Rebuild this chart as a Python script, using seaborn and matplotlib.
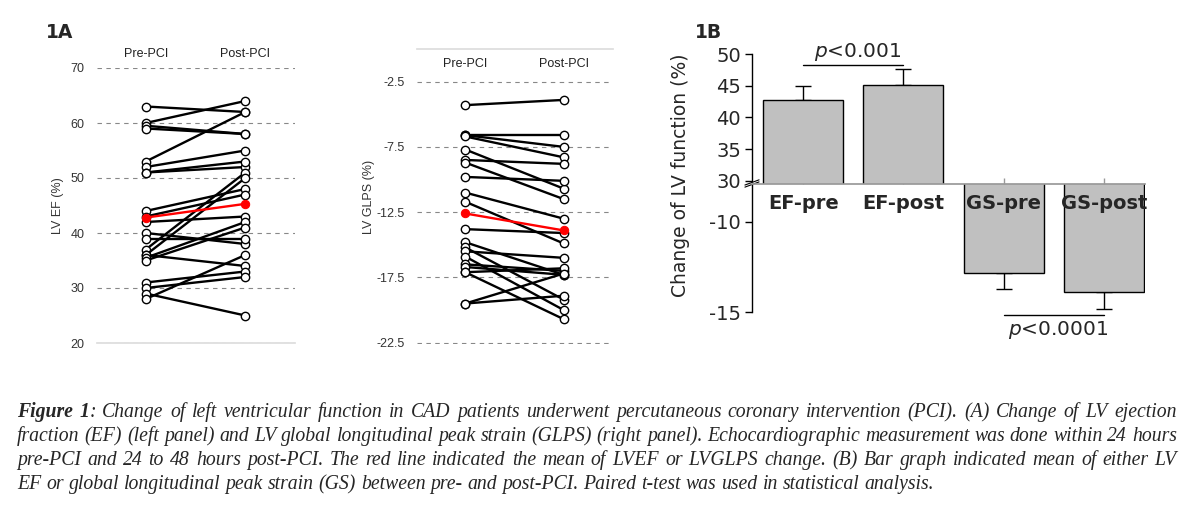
import matplotlib
matplotlib.use("Agg")
import matplotlib.pyplot as plt
import seaborn as sns
import pandas as pd

sns.set_theme(style="white")
plt.rcParams["font.family"] = ["Liberation Sans", "DejaVu Sans"]
plt.rcParams["axes.unicode_minus"] = False

# ----------------------------------------------------------------------
# Data
# ----------------------------------------------------------------------
time_labels = ["Pre-PCI", "Post-PCI"]

ef_pre = [63, 60, 59.5, 59, 53, 52, 51, 51, 44, 43, 42, 40, 39, 37, 36, 36, 35.5, 35, 31, 30, 29, 28]
ef_post = [62, 64, 58, 58, 62, 55, 52, 53, 48, 47, 43, 38, 39, 51, 50, 34, 42, 41, 33, 32, 25, 36]
ef_mean = [42.8, 45.3]
ef_ticks = [20, 30, 40, 50, 60, 70]

glps_pre = [-4.3, -6.6, -6.6, -6.7, -7.7, -8.5, -8.7, -9.8, -11.0, -11.7, -13.8,
            -14.8, -15.2, -15.5, -15.9, -16.5, -16.7, -17.1, -17.1, -19.5, -19.5]
glps_post = [-3.9, -6.6, -7.5, -8.3, -10.7, -8.8, -11.5, -10.1, -13.0, -14.9, -14.1,
             -17.3, -19.2, -16.0, -20.0, -17.0, -17.3, -16.8, -20.7, -18.9, -17.2]
glps_mean = [-12.6, -13.9]
glps_ticks = [-22.5, -17.5, -12.5, -7.5, -2.5]

bar_labels = ["EF-pre", "EF-post", "GS-pre", "GS-post"]
bar_means = [42.7, 45.1, -12.8, -13.9]
bar_err = [2.2, 2.5, 0.9, 0.9]
top_ticks = [30, 35, 40, 45, 50]
bottom_ticks = [-15, -10]

caption_lines = [
    "Figure 1: Change of left ventricular function in CAD patients underwent percutaneous coronary intervention (PCI). (A) Change of LV ejection",
    "fraction (EF) (left panel) and LV global longitudinal peak strain (GLPS) (right panel). Echocardiographic measurement was done within 24 hours",
    "pre-PCI and 24 to 48 hours post-PCI. The red line indicated the mean of LVEF or LVGLPS change. (B) Bar graph indicated mean of either LV",
    "EF or global longitudinal peak strain (GS) between pre- and post-PCI. Paired t-test was used in statistical analysis.",
]
caption_bold = "Figure 1"

W, H = 1194, 513
WIDE = ["DejaVu Sans"]


def box(x0, y0, x1, y1):
    """Pixel box (top-left origin) -> figure fraction rect."""
    return [x0 / W, 1 - y1 / H, (x1 - x0) / W, (y1 - y0) / H]


def paired_frame(pre, post):
    n = len(pre)
    return pd.DataFrame({
        "pid": list(range(n)) * 2,
        "time": [time_labels[0]] * n + [time_labels[1]] * n,
        "value": list(pre) + list(post),
    })


def draw_paired(ax, pre, post, mean, ticks, ylabel, labelpad):
    sns.lineplot(data=paired_frame(pre, post), x="time", y="value", units="pid",
                 estimator=None, sort=False, color="black", lw=1.7, marker="o",
                 ms=6, mfc="white", mec="black", mew=1.0, ax=ax, legend=False)
    mdf = pd.DataFrame({"time": time_labels, "value": mean})
    sns.lineplot(data=mdf, x="time", y="value", sort=False, color="#ff0000", lw=1.7,
                 marker="o", ms=6, mfc="#ff0000", mec="#ff0000", ax=ax, zorder=5)
    ax.set_yticks(ticks)
    ax.set_yticklabels([f"{t:g}" for t in ticks])
    ax.set_xlim(-0.49, 1.5)
    ax.set_xlabel("")
    ax.set_ylabel(ylabel, fontsize=9, color="#333333", labelpad=labelpad)
    ax.grid(axis="y", ls=(0, (4, 4)), color="#888888", lw=0.8)
    ax.grid(axis="x", visible=False)
    ax.tick_params(axis="y", length=0, labelsize=9, labelcolor="#333333", pad=9)
    ax.tick_params(axis="x", length=0, labelsize=9, labelcolor="#222222")
    ax.set_facecolor("none")
    for s in ax.spines.values():
        s.set_visible(False)


fig = plt.figure(figsize=(W / 100, H / 100), dpi=100)

# ---------------------------- 1A left: LV EF ---------------------------
ax1 = fig.add_axes(box(97, 68, 295, 343))
draw_paired(ax1, ef_pre, ef_post, ef_mean, ef_ticks, "LV EF (%)", 5)
ax1.set_ylim(20, 70)
ax1.xaxis.tick_top()
ax1.tick_params(axis="x", pad=6)
ax1.spines["bottom"].set_visible(True)
ax1.spines["bottom"].set_color("#dddddd")

# ---------------------------- 1A right: LV GLPS ------------------------
ax2 = fig.add_axes(box(417, 49, 613, 344))
draw_paired(ax2, glps_pre, glps_post, glps_mean, glps_ticks, "LV GLPS (%)", 1)
ax2.set_ylim(-22.6, 0)
ax2.xaxis.tick_top()
ax2.tick_params(axis="x", pad=-15)
ax2.spines["top"].set_visible(True)
ax2.spines["top"].set_color("#dddddd")

fig.text(46 / W, 1 - 32 / H, "1A", fontsize=13.5, fontweight="bold", va="center",
         ha="left", family=WIDE)

# ---------------------------- 1B: broken bar chart ---------------------
ax_top = fig.add_axes(box(752, 54, 1145, 184))
ax_bot = fig.add_axes(box(752, 184, 1145, 334))
bar_df = pd.DataFrame({"label": bar_labels, "mean": bar_means})
lower = [e if m < 0 else 0 for m, e in zip(bar_means, bar_err)]
upper = [e if m > 0 else 0 for m, e in zip(bar_means, bar_err)]
for ax in (ax_top, ax_bot):
    ax.errorbar(range(len(bar_means)), bar_means, yerr=[lower, upper], fmt="none",
                ecolor="black", elinewidth=1, capsize=6, capthick=1, zorder=1)
    sns.barplot(data=bar_df, x="label", y="mean", color="#c0c0c0", saturation=1,
                edgecolor="black", linewidth=1, width=0.8, ax=ax, zorder=2)
    ax.set_xlim(-0.51, 3.41)
    ax.set_xlabel("")
    ax.set_ylabel("")
    ax.set_facecolor("none")
    for s in ax.spines.values():
        s.set_visible(False)
    ax.spines["left"].set_visible(True)
    ax.spines["left"].set_color("black")
    ax.spines["left"].set_linewidth(1)
    ax.tick_params(axis="y", direction="out", length=5, width=1, color="black",
                   labelsize=14, pad=3, left=True)

ax_top.set_ylim(29.5, 50)
ax_top.set_yticks(top_ticks)
ax_top.set_yticklabels([str(t) for t in top_ticks], family=WIDE)
ax_top.spines["left"].set_bounds(30, 50)
ax_top.spines["bottom"].set_visible(True)
ax_top.spines["bottom"].set_color("#999999")
ax_top.tick_params(axis="x", direction="in", length=4, width=1, color="#999999",
                   labelsize=14, pad=7, bottom=True)
for lab in ax_top.get_xticklabels():
    lab.set_fontweight("bold")
    lab.set_family(WIDE)
ax_top.set_zorder(3)

ax_bot.set_ylim(-16.2, -7.9)
ax_bot.set_yticks(bottom_ticks)
ax_bot.set_yticklabels([str(t) for t in bottom_ticks], family=WIDE)
ax_bot.spines["left"].set_bounds(-15, -7.9)
ax_bot.set_xticks([])

# axis-break marks
for dy in (-0.004, 0.012):
    ax_top.plot([-0.018, 0.018], [dy - 0.02, dy + 0.02], transform=ax_top.transAxes,
                color="black", lw=0.8, clip_on=False)

# significance brackets
ax_top.plot([0, 1], [48.25, 48.25], color="black", lw=1, clip_on=False)
ax_top.text(0.54, 50.3, r"$\it{p}$<0.001", ha="center", va="center", fontsize=14.5,
            family=WIDE)
ax_bot.plot([2, 3], [-15.17, -15.17], color="black", lw=1, clip_on=False)
ax_bot.text(2.54, -16.0, r"$\it{p}$<0.0001", ha="center", va="center", fontsize=14.5,
            family=WIDE)

fig.text(681 / W, 1 - 175 / H, "Change of LV function (%)", rotation=90,
         fontsize=13.5, ha="center", va="center", family=WIDE)
fig.text(695 / W, 1 - 32 / H, "1B", fontsize=13.5, fontweight="bold", va="center",
         ha="left", family=WIDE)

# ---------------------------- caption (justified) ---------------------
cap_size = 14.2
cap_font = dict(family=["Liberation Serif", "DejaVu Serif"], style="italic", fontsize=cap_size)
line_base = [417, 441, 465, 489]
cap_left, cap_right = 17, 1177
space_px = 0.25 * cap_size * 100 / 72
renderer = fig.canvas.get_renderer()

for i, (y, line) in enumerate(zip(line_base, caption_lines)):
    words = line.split()
    arts = []
    for w in words:
        kw = dict(va="baseline", ha="left", **cap_font)
        if i == 0 and w == "Figure":
            parts = [fig.text(0, 1 - y / H, w, fontweight="bold", **kw)]
        elif i == 0 and w == "1:":
            parts = [fig.text(0, 1 - y / H, "1", fontweight="bold", **kw),
                     fig.text(0, 1 - y / H, ":", **kw)]
        else:
            parts = [fig.text(0, 1 - y / H, w, **kw)]
        arts.append(parts)
    widths = [[p.get_window_extent(renderer).width for p in parts] for parts in arts]
    total = sum(sum(ws) for ws in widths)
    justify = i < len(caption_lines) - 1
    gap = (cap_right - cap_left - total) / (len(arts) - 1) if justify else space_px
    x = cap_left
    for parts, ws in zip(arts, widths):
        for p, w in zip(parts, ws):
            p.set_x(x / W)
            x += w
        x += gap

fig.savefig("out.png", dpi=100)
